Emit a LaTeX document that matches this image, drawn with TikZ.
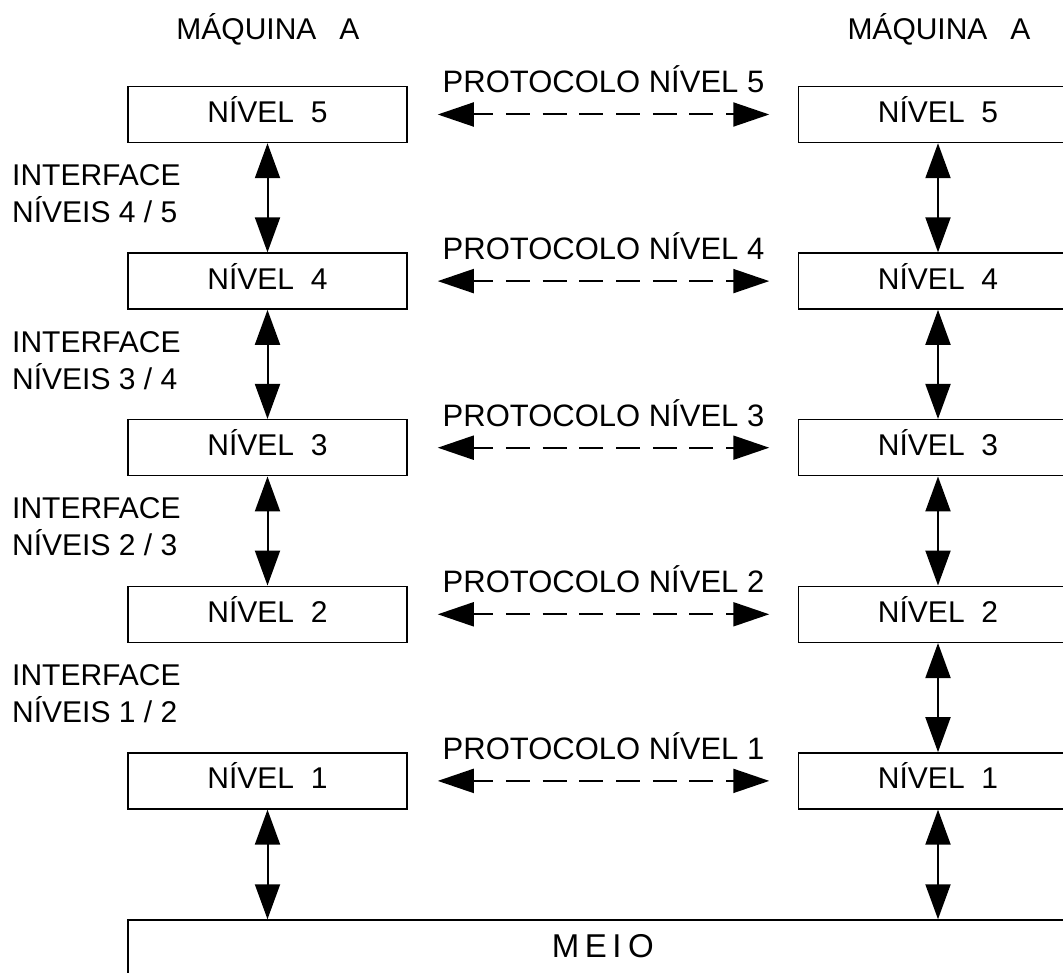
\documentclass[tikz,border=0pt]{standalone}
\usepackage{fontspec}
\setmainfont{Liberation Sans}
\usetikzlibrary{arrows.meta}
\begin{document}
\begin{tikzpicture}[x=1pt,y=-1pt,
  lvl/.style={draw, line width=1.5pt, minimum width=279pt, minimum height=56pt, inner sep=0pt,
    font=\fontsize{30}{36}\selectfont, text height=18pt, text depth=2pt},
  txt/.style={inner sep=0pt, font=\fontsize{30}{37}\selectfont},
  iface/.style={txt, align=left, anchor=north west},
  proto/.style={inner sep=0pt, anchor=base, font=\fontsize{31}{37}\selectfont},
  vlink/.style={line width=2pt, {Triangle[length=35pt,width=25pt]}-{Triangle[length=35pt,width=25pt]}},
  plink/.style={line width=2pt, dash pattern=on 24pt off 12.7pt, dash phase=4pt,
    {Triangle[length=36pt,width=24pt]}-{Triangle[length=36pt,width=24pt]}}
]
\useasboundingbox (0,0) rectangle (1063,973);
\clip (0,0) rectangle (1063,973);

% titles
\node[txt, anchor=base] (TL) at (268,40) {MÁQUINA\hspace{23pt}A};
\node[txt, anchor=base] (TR) at (939,40) {MÁQUINA\hspace{23pt}A};

% level boxes
\node[lvl] (L5) at (267.5,114.5) {NÍVEL\ \ 5};
\node[lvl] (L4) at (267.5,281.1) {NÍVEL\ \ 4};
\node[lvl] (L3) at (267.5,447.7) {NÍVEL\ \ 3};
\node[lvl] (L2) at (267.5,614.3) {NÍVEL\ \ 2};
\node[lvl] (L1) at (267.5,780.9) {NÍVEL\ \ 1};
\node[lvl] (R5) at (938,114.5) {NÍVEL\ \ 5};
\node[lvl] (R4) at (938,281.1) {NÍVEL\ \ 4};
\node[lvl] (R3) at (938,447.7) {NÍVEL\ \ 3};
\node[lvl] (R2) at (938,614.3) {NÍVEL\ \ 2};
\node[lvl] (R1) at (938,780.9) {NÍVEL\ \ 1};

% medium
\node[lvl, minimum width=949.5pt, font=\fontsize{33}{40}\selectfont, text height=20pt, text depth=2pt]
  (M) at (602.75,948) {M\kern5.5pt E\kern5.5pt I\kern6.5pt O};

% interface labels
\node[iface] (I45) at (12,164.5) {INTERFACE\\NÍVEIS 4 / 5};
\node[iface] (I34) at (12,331.1) {INTERFACE\\NÍVEIS 3 / 4};
\node[iface] (I23) at (12,497.7) {INTERFACE\\NÍVEIS 2 / 3};
\node[iface] (I12) at (12,664.3) {INTERFACE\\NÍVEIS 1 / 2};

% protocol labels
\node[proto] (P5) at (603.5,93) {PROTOCOLO NÍVEL 5};
\node[proto] (P4) at (603.5,259.6) {PROTOCOLO NÍVEL 4};
\node[proto] (P3) at (603.5,426.2) {PROTOCOLO NÍVEL 3};
\node[proto] (P2) at (603.5,592.8) {PROTOCOLO NÍVEL 2};
\node[proto] (P1) at (603.5,759.4) {PROTOCOLO NÍVEL 1};

% vertical interfaces
\draw[vlink] (L5) -- (L4);
\draw[vlink] (L4) -- (L3);
\draw[vlink] (L3) -- (L2);
\draw[vlink] (L1.south) -- (L1.south |- M.north);
\draw[vlink] (R5) -- (R4);
\draw[vlink] (R4) -- (R3);
\draw[vlink] (R3) -- (R2);
\draw[vlink] (R2) -- (R1);
\draw[vlink] (R1.south) -- (R1.south |- M.north);

% protocol arrows
\foreach \k in {1,...,5}{
  \draw[plink] ([xshift=30pt]L\k.east) -- ([xshift=-28.5pt]R\k.west);
}
\end{tikzpicture}
\end{document}
